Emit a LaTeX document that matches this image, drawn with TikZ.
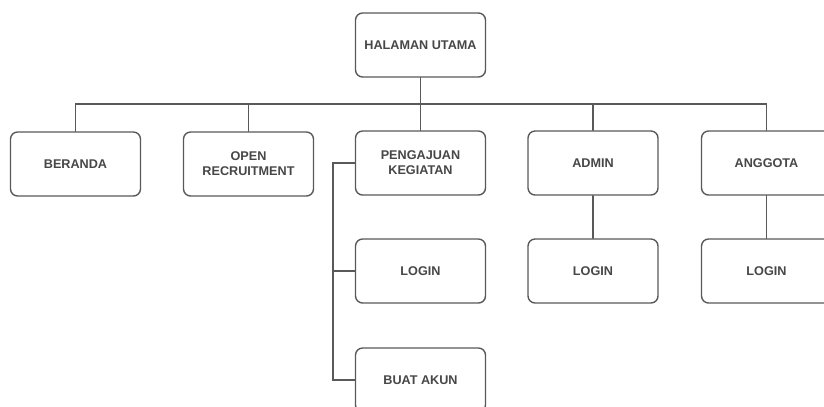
\documentclass[tikz,border=0pt]{standalone}
\usepackage{fontspec}
\setmainfont{Liberation Sans}
\usepackage{tikz}
\usepackage{xcolor}

\begin{document}
\begin{tikzpicture}[x=0.02cm,y=-0.02cm,line cap=round,
  menubox/.style={draw=black!65,line width=0.8pt,rounded corners=4pt,fill=white,
    minimum width=2.6cm,minimum height=1.28cm,align=center,
    text=black!72,font=\fontsize{7.2}{8.6}\selectfont\bfseries},
  link/.style={draw=black!65,line width=0.8pt}]
\useasboundingbox (0,0) rectangle (824,406);
\clip (0,0) rectangle (824,406);
% top level
\node[menubox] (utama) at (420.5,45) {HALAMAN UTAMA};
% second row
\node[menubox] (beranda) at (75.5,164) {BERANDA};
\node[menubox] (open) at (248.5,164) {OPEN\\RECRUITMENT};
\node[menubox] (pengajuan) at (420.5,163) {PENGAJUAN\\KEGIATAN};
\node[menubox] (admin) at (593,163) {ADMIN};
\node[menubox] (anggota) at (766.5,163) {ANGGOTA};
% third row
\node[menubox] (loginp) at (420.5,271) {LOGIN};
\node[menubox] (logina) at (593,271) {LOGIN};
\node[menubox] (loging) at (766.5,271) {LOGIN};
\node[menubox] (buat) at (420.5,380) {BUAT AKUN};
\coordinate (bus) at (420.5,104);
\coordinate (spine) at (333,163);
% bus lines
\draw[link] (utama.south) -- (bus);
\draw[link] (beranda.north) -- (beranda.north |- bus) -- (anggota.north |- bus) -- (anggota.north);
\draw[link] (open.north) -- (open.north |- bus);
\draw[link] (pengajuan.north) -- (pengajuan.north |- bus);
\draw[link] (admin.north) -- (admin.north |- bus);
% children
\draw[link] (pengajuan.west) -- (spine) -- (buat.west -| spine) -- (buat.west);
\draw[link] (loginp.west) -- (loginp.west -| spine);
\draw[link] (admin.south) -- (logina.north);
\draw[link] (anggota.south) -- (loging.north);
\end{tikzpicture}
\end{document}
